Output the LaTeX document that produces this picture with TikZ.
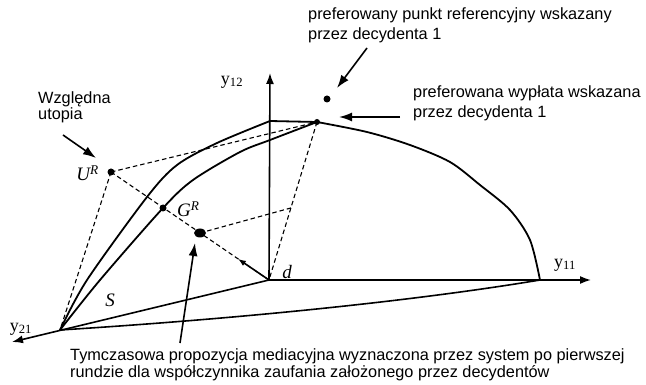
\documentclass[tikz,border=0pt]{standalone}
\usepackage{fontspec}
\setmainfont{Liberation Sans}
\newfontfamily\tms{Liberation Serif}
\usetikzlibrary{arrows.meta,calc,shapes.geometric}

\begin{document}
\begin{tikzpicture}[
    x = 1pt, y = -1pt,
    >=Latex,
    every node/.style = {inner sep=0pt},
    % Named styles
    axis/.style     = {-{Latex[length=11pt,width=8pt]}, line width=1.6pt},
    front/.style    = {line width=1.8pt, line join=round},
    boundary/.style = {line width=1.6pt},
    guide/.style    = {line width=1.1pt, dash pattern=on 4.5pt off 3pt},
    spot/.style     = {circle, fill=black, minimum size=7pt},
    bigspot/.style  = {ellipse, fill=black, minimum width=12pt, minimum height=9pt},
    callout/.style  = {-{Latex[length=13pt,width=9pt]}, line width=1.6pt},
    movearrow/.style = {-{Latex[open,length=8pt,width=6pt]}, line width=1.6pt},
    note/.style     = {font=\fontsize{16.3}{20}\selectfont, align=left},
    sym/.style      = {font=\fontsize{19}{19}\selectfont\tms\itshape},
    axlbl/.style    = {font=\fontsize{18}{18}\selectfont\tms},
]

% ── Frame (pixel grid of the reference) ──────────────────────────────────────
\useasboundingbox (0,0) rectangle (646,385);

% ── Key points ────────────────────────────────────────────────────────────────
\coordinate (d)      at (269,280);   % disagreement point
\coordinate (y12tip) at (270,73);
\coordinate (y11tip) at (591,280);
\coordinate (y21tip) at (12,342);
\coordinate (v)      at (60,330);    % max of y21
\coordinate (e)      at (540,280);   % max of y11
\coordinate (Q)      at (270,121);
\coordinate (P)      at (317,122);   % preferred payoff of decision maker 1
\coordinate (U)      at (111,172);   % relative utopia
\coordinate (G)      at (163,208);
\coordinate (M)      at (200,233);   % tentative mediation proposal
\coordinate (H)      at ($(d)!0.456!(P)$);
\coordinate (R)      at (327,99);    % reference point

% ── Axes ──────────────────────────────────────────────────────────────────────
\draw[axis] (d) -- (y12tip);
\draw[axis] (d) -- (y11tip);
\draw[axis] (d) -- (y21tip);

% ── Set S ─────────────────────────────────────────────────────────────────────
\draw[boundary] (v) .. controls (250,318) and (420,300) .. (e);
\draw[front] plot[smooth] coordinates {(v) (87,280) (147,197) (177,165) (217,143) (Q)} -- (P);
\draw[front] plot[smooth] coordinates {(v) (100,280) (G) (193,180) (240,152) (270,140) (P)};
\draw[front] plot[smooth] coordinates {(P) (367,132) (410,145) (450,162) (480,185) (510,210) (530,240) (e)};

% ── Construction lines ────────────────────────────────────────────────────────
\draw[guide] (U) -- (P);
\draw[guide] (U) -- (v);
\draw[guide] (U) -- (d);
\draw[guide] (P) -- (d);
\draw[guide] (M) -- (H);
\draw[movearrow] (d) -- ($(d)!0.45!(M)$);

% ── Points ────────────────────────────────────────────────────────────────────
\node[spot]    (uR)  at (U) {};
\node[spot]    (gR)  at (G) {};
\node[bigspot] (med) at (M) {};
\node[spot, minimum size=6pt] (pay) at (P) {};
\node[spot]    (ref) at (R) {};

% ── Symbols ───────────────────────────────────────────────────────────────────
\node[sym, anchor=east] (lblU) at ($(U)+(-12,1)$) {U\textsuperscript{R}};
\node[sym, anchor=west] (lblG) at ($(G)+(14,1)$) {G\textsuperscript{R}};
\node[sym] (lblS) at (110,300) {S};
\node[sym] (lbld) at (287,272) {d};
\node[axlbl] (lbl12) at (232,82)  {y\textsubscript{12}};
\node[axlbl] (lbl11) at (565,265) {y\textsubscript{11}};
\node[axlbl] (lbl21) at (21,329)  {y\textsubscript{21}};

% ── Notes ─────────────────────────────────────────────────────────────────────
\node[note, anchor=north west] (refnote) at (308,7)
    {preferowany punkt referencyjny wskazany\\przez decydenta 1};
\node[note, anchor=north west] (paynote) at (413,85)
    {preferowana wypłata wskazana\\przez decydenta 1};
\node[note, anchor=north west, font=\fontsize{16.3}{16.5}\selectfont] (utonote) at (38,91)
    {Względna\\utopia};
\node[note, anchor=north west, font=\fontsize{16.3}{17}\selectfont] (mednote) at (70,348)
    {Tymczasowa propozycja mediacyjna wyznaczona przez system po pierwszej\\rundzie dla współczynnika zaufania założonego przez decydentów};

% ── Callouts ──────────────────────────────────────────────────────────────────
\coordinate (refTail) at (367,48);  \coordinate (refHead) at (337,88);
\coordinate (payTail) at (400,117); \coordinate (payHead) at (339,117);
\coordinate (utoTail) at (63,135);  \coordinate (utoHead) at (96,158);
\coordinate (medTail) at (180,343); \coordinate (medHead) at (195,243);
\draw[callout] (refTail) -- (refHead);
\draw[callout] (payTail) -- (payHead);
\draw[callout] (utoTail) -- (utoHead);
\draw[callout] (medTail) -- (medHead);

\end{tikzpicture}
\end{document}
